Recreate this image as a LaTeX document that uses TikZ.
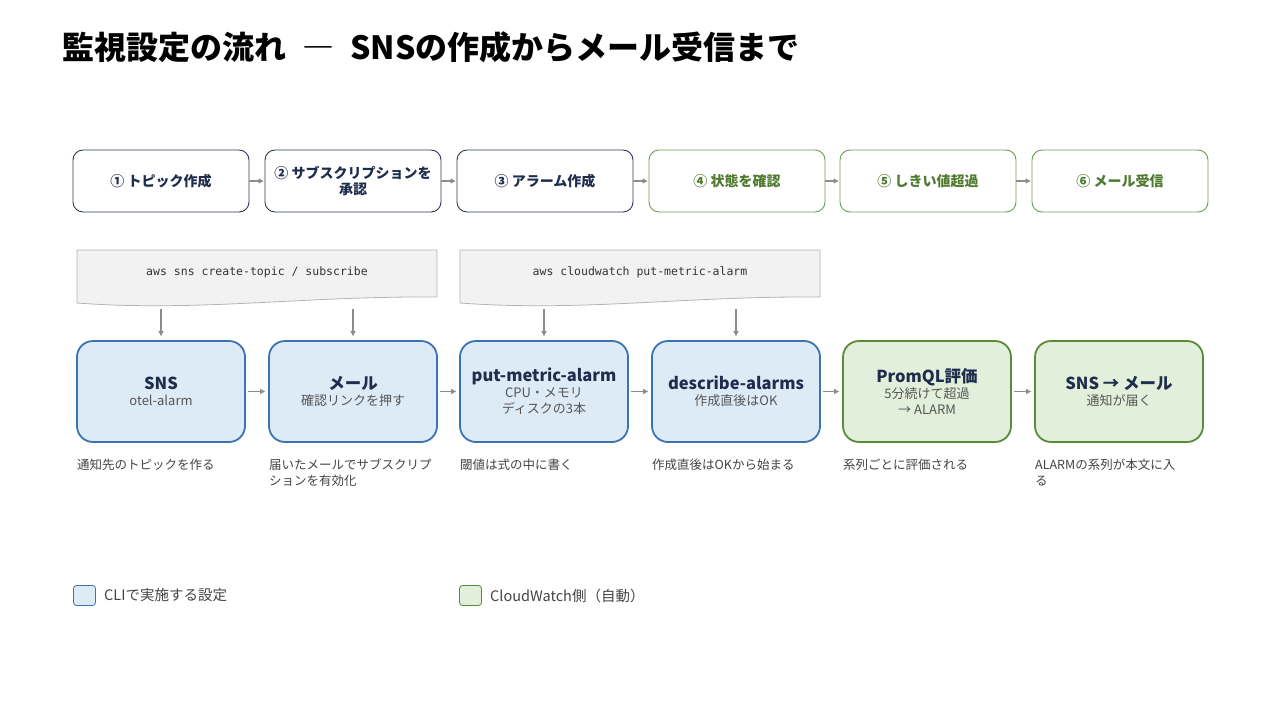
\documentclass[tikz,border=0pt]{standalone}
\usepackage{fontspec}
\setmainfont{Noto Sans CJK JP}
\newfontfamily\codefont{DejaVu Sans Mono}
\usetikzlibrary{arrows.meta,calc}
\definecolor{navy}{HTML}{1F2D4D}
\definecolor{navyline}{HTML}{2E3B55}
\definecolor{grn}{HTML}{4E7A30}
\definecolor{grnline}{HTML}{6F9A55}
\definecolor{bluefill}{HTML}{DDEBF7}
\definecolor{blueline}{HTML}{3B73B5}
\definecolor{grnfill}{HTML}{E2EFDA}
\definecolor{grnstroke}{HTML}{5A8A3A}
\definecolor{codefill}{HTML}{F2F2F2}
\definecolor{codeline}{HTML}{B4B4B4}
\definecolor{arr}{HTML}{8C8C8C}
\definecolor{subtxt}{HTML}{555555}
\definecolor{captxt}{HTML}{444444}
\begin{document}
\begin{tikzpicture}[x=1pt,y=-1pt,
  topbox/.style={draw=navyline,line width=0.9pt,rounded corners=10pt,minimum width=176pt,minimum height=62pt,
    align=center,text=navy,font=\fontsize{14}{16}\selectfont\bfseries,inner sep=2pt},
  topgreen/.style={topbox,draw=grnline,text=grn},
  midbox/.style={draw=blueline,fill=bluefill,line width=1.8pt,rounded corners=16pt,minimum width=168pt,minimum height=101pt,
    align=center,text=subtxt,font=\fontsize{13}{16}\selectfont,inner sep=2pt},
  midgreen/.style={midbox,draw=grnstroke,fill=grnfill},
  caption/.style={anchor=north west,inner sep=0pt,align=left,text=captxt,font=\fontsize{12.5}{15.5}\selectfont},
  flow/.style={draw=arr,line width=1.3pt,-{Triangle[length=5pt,width=5pt]}},
  codebox/.style={draw=codeline,fill=codefill,line width=0.8pt},
  codetext/.style={font=\codefont\fontsize{11.5}{13}\selectfont,text=black!80,inner sep=0pt},
  legtext/.style={anchor=west,inner sep=0pt,text=captxt,font=\fontsize{14.5}{16}\selectfont}
]
\newcommand{\mtitle}[1]{{\fontsize{16.5}{19}\selectfont\bfseries\color{navy}#1}}
\useasboundingbox (0,0) rectangle (1280,720);
\fill[white] (0,0) rectangle (1280,720);

% title
\node[anchor=west,inner sep=0pt,font=\fontsize{32}{36}\selectfont\bfseries,text=black] (title) at (62,47)
  {監視設定の流れ\hspace{16pt}{\addfontfeature{CharacterWidth=Full}—}\hspace{16pt}SNSの作成からメール受信まで};

% top row
\node[topbox] (t1) at (161,181) {① トピック作成};
\node[topbox] (t2) at (353,181) {② サブスクリプションを\\承認};
\node[topbox] (t3) at (545,181) {③ アラーム作成};
\node[topgreen] (t4) at (737,181) {④ 状態を確認};
\node[topgreen] (t5) at (928,181) {⑤ しきい値超過};
\node[topgreen] (t6) at (1120,181) {⑥ メール受信};
\foreach \a/\b in {t1/t2,t2/t3,t3/t4,t4/t5,t5/t6}
  \draw[flow,shorten >=1pt] (\a.east) -- (\b.west);

% code boxes
\draw[codebox] (77,250) -- (437,250) -- (437,297) .. controls (300,296) and (200,312) .. (77,303) -- cycle;
\node[codetext] (code1) at (257,272) {aws sns create-topic / subscribe};
\draw[codebox] (460,250) -- (820,250) -- (820,297) .. controls (683,296) and (583,312) .. (460,303) -- cycle;
\node[codetext] (code2) at (640,272) {aws cloudwatch put-metric-alarm};

% middle row
\node[midbox] (m1) at (161,391.5) {\mtitle{SNS}\\otel-alarm};
\node[midbox] (m2) at (353,391.5) {\mtitle{メール}\\確認リンクを押す};
\node[midbox] (m3) at (544,391.5) {\mtitle{put-metric-alarm}\\CPU・メモリ\\ディスクの3本};
\node[midbox] (m4) at (736,391.5) {\mtitle{describe-alarms}\\作成直後はOK};
\node[midgreen] (m5) at (927,391.5) {\mtitle{PromQL評価}\\5分続けて超過\\→ ALARM};
\node[midgreen] (m6) at (1119,391.5) {\mtitle{SNS → メール}\\通知が届く};
\foreach \a/\b in {m1/m2,m2/m3,m3/m4,m4/m5,m5/m6}
  \draw[flow,shorten <=2pt,shorten >=3pt] (\a.east) -- (\b.west);

% code -> boxes arrows
\coordinate (s1) at (161,309);
\coordinate (s2) at (353,309);
\coordinate (s3) at (544,309);
\coordinate (s4) at (736,309);
\foreach \s/\m in {s1/m1,s2/m2,s3/m3,s4/m4}
  \draw[flow,shorten >=4pt] (\s) -- (\s |- \m.north);

% captions
\node[caption] (c1) at (77,459) {通知先のトピックを作る};
\node[caption] (c2) at (269,459) {届いたメールでサブスクリプ\\ションを有効化};
\node[caption] (c3) at (460,459) {閾値は式の中に書く};
\node[caption] (c4) at (652,459) {作成直後はOKから始まる};
\node[caption] (c5) at (843,459) {系列ごとに評価される};
\node[caption] (c6) at (1035,459) {ALARMの系列が本文に入\\る};

% legend
\node[draw=blueline,fill=bluefill,line width=0.8pt,rounded corners=3pt,minimum width=22pt,minimum height=20pt,inner sep=0pt] (lg1) at (84.5,595.5) {};
\node[legtext] (lt1) at (104,595.5) {CLIで実施する設定};
\node[draw=grnstroke,fill=grnfill,line width=0.8pt,rounded corners=3pt,minimum width=22pt,minimum height=20pt,inner sep=0pt] (lg2) at (470.5,595.5) {};
\node[legtext] (lt2) at (490,595.5) {CloudWatch側（自動）};
\end{tikzpicture}
\end{document}
